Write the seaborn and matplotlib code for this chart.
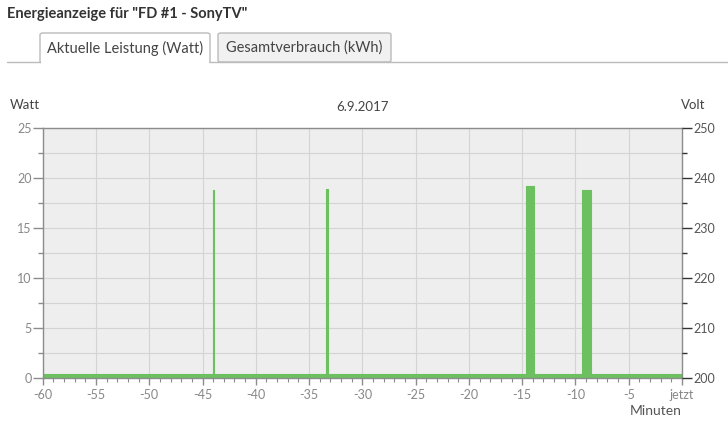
import matplotlib
matplotlib.use('Agg')
import matplotlib.pyplot as plt
from matplotlib.patches import FancyBboxPatch, Rectangle
from matplotlib.lines import Line2D
from matplotlib.ticker import MultipleLocator, FixedLocator
import numpy as np
import pandas as pd
import seaborn as sns

# step series: minute of the sample (relative to now) and power in watt
minutes = [-60, -44.05, -43.9, -33.4, -33.25, -14.65, -13.85, -9.4, -8.5, 0]
watts = [0.35, 18.8, 0.35, 18.9, 0.35, 19.2, 0.35, 18.8, 0.35, 0.35]
x_ticks = [-60, -55, -50, -45, -40, -35, -30, -25, -20, -15, -10, -5, 0]
x_labels = ['-60', '-55', '-50', '-45', '-40', '-35', '-30', '-25', '-20', '-15', '-10', '-5', 'jetzt']
watt_ticks = [0, 5, 10, 15, 20, 25]
volt_ticks = [200, 210, 220, 230, 240, 250]

green = '#6cc05f'
grey_txt = '#888888'
spine_c = '#8c8c8c'

sns.set_style('white', {'axes.facecolor': '#eeeeee', 'grid.color': '#d4d4d4'})
plt.rcParams['font.family'] = ['Lato', 'DejaVu Sans']

W, H = 728, 428
fig = plt.figure(figsize=(W / 100, H / 100), dpi=100)

def fx(px):
    return px / W

def fy(py):
    return 1 - py / H

# header and tabs
fig.text(fx(7), fy(14), 'Energieanzeige für "FD #1 - SonyTV"', fontsize=10.5, fontweight='bold',
         color='#333333', va='center', ha='left')
fig.add_artist(Line2D([fx(7), fx(40)], [fy(62), fy(62)], color='#bbbbbb', lw=1))
fig.add_artist(Line2D([fx(210), fx(728)], [fy(62), fy(62)], color='#bbbbbb', lw=1))
tab1 = FancyBboxPatch((fx(40), fy(63)), fx(170), 30 / H, boxstyle='round,pad=0,rounding_size=0.004',
                      fc='white', ec='#bbbbbb', lw=1, transform=fig.transFigure)
fig.add_artist(tab1)
fig.add_artist(Rectangle((fx(41), fy(64)), fx(168), 3 / H, fc='white', ec='none', transform=fig.transFigure))
tab2 = FancyBboxPatch((fx(218), fy(62)), fx(173), 29 / H, boxstyle='round,pad=0,rounding_size=0.004',
                      fc='#f1f1f1', ec='#bbbbbb', lw=1, transform=fig.transFigure)
fig.add_artist(tab2)
fig.text(fx(125), fy(48), 'Aktuelle Leistung (Watt)', fontsize=10.5, color='#444444', ha='center', va='center')
fig.text(fx(304), fy(48), 'Gesamtverbrauch (kWh)', fontsize=10.5, color='#444444', ha='center', va='center')

# chart
ax = fig.add_axes([fx(42.7), fy(377.7), fx(682 - 42.7), (377.7 - 128) / H])
df = pd.DataFrame({'Minuten': minutes, 'Watt': watts})
ax.fill_between(df['Minuten'], df['Watt'], step='post', color=green, lw=0)
sns.lineplot(data=df, x='Minuten', y='Watt', drawstyle='steps-post', color=green, lw=0.8, ax=ax)

ax.set_xlim(-60, 0)
ax.set_ylim(0, 25)
ax.xaxis.set_major_locator(FixedLocator(x_ticks))
ax.set_xticklabels(x_labels)
ax.xaxis.set_minor_locator(MultipleLocator(1))
ax.set_yticks(watt_ticks)
ax.yaxis.set_minor_locator(MultipleLocator(2.5))
ax.grid(True, which='major', axis='x', color='#d4d4d4', lw=0.8)
ax.grid(True, which='both', axis='y', color='#d4d4d4', lw=0.8)
ax.set_axisbelow(True)
ax.set_xlabel('')
ax.set_ylabel('')
for s in ax.spines.values():
    s.set_visible(True)
    s.set_color(spine_c)
    s.set_linewidth(1)
ax.tick_params(axis='x', which='major', direction='out', length=5, width=1, color=spine_c,
               labelsize=9, labelcolor=grey_txt, pad=3, bottom=True)
ax.tick_params(axis='x', which='minor', direction='out', length=3, width=0.8, color=spine_c, bottom=True)
ax.tick_params(axis='y', which='major', direction='out', length=7, width=1, color=spine_c,
               labelsize=9, labelcolor=grey_txt, pad=1, left=True)
ax.tick_params(axis='y', which='minor', direction='out', length=3.5, width=1, color=spine_c, left=True)

ax2 = ax.twinx()
ax2.set_ylim(200, 250)
ax2.set_yticks(volt_ticks)
ax2.yaxis.set_minor_locator(MultipleLocator(5))
ax2.grid(False)
for s in ax2.spines.values():
    s.set_visible(False)
ax2.tick_params(axis='y', which='major', direction='out', length=7, width=1, color='#333333',
                labelsize=9, labelcolor='#555555', pad=1, right=True)
ax2.tick_params(axis='y', which='minor', direction='out', length=3.5, width=1, color='#333333', right=True)

fig.text(fx(10), fy(105), 'Watt', fontsize=9.5, color='#444444', ha='left', va='center')
fig.text(fx(705), fy(105), 'Volt', fontsize=9.5, color='#444444', ha='right', va='center')
fig.text(fx(362), fy(107), '6.9.2017', fontsize=9.5, color='#444444', ha='center', va='center')
fig.text(fx(682), fy(411), 'Minuten', fontsize=10, color='#555555', ha='right', va='center')

fig.savefig('out.png', dpi=100)
